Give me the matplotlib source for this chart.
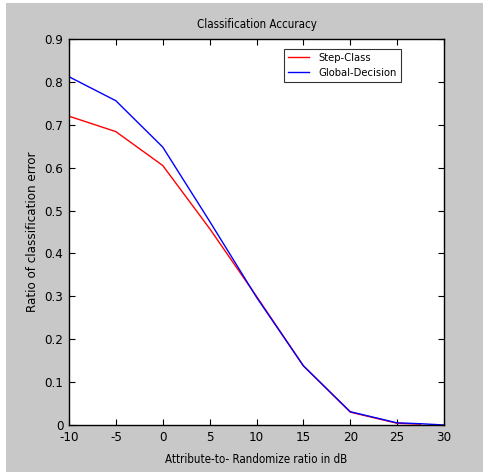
import matplotlib.pyplot as plt
from matplotlib import font_manager
from matplotlib.patches import Rectangle

# snr values (dB) and classification error ratio
x_step = [-10, -5, 0, 5, 10, 15, 20, 25, 27.5]
y_step = [0.720, 0.684, 0.605, 0.458, 0.300, 0.138, 0.030, 0.004, 0.002]

x_global = [-10, -5, 0, 5, 10, 15, 20, 25, 27.5, 30]
y_global = [0.812, 0.756, 0.648, 0.475, 0.298, 0.138, 0.031, 0.005, 0.003, 0.0]

xticks = [-10, -5, 0, 5, 10, 15, 20, 25, 30]
yticks = [0, 0.1, 0.2, 0.3, 0.4, 0.5, 0.6, 0.7, 0.8, 0.9]
ytick_labels = ["0", "0.1", "0.2", "0.3", "0.4", "0.5", "0.6", "0.7", "0.8", "0.9"]

# pick a narrow font if there is one (matlab look)
condensed = [f for f in font_manager.fontManager.ttflist
             if f.name == "DejaVu Sans" and f.stretch in ("condensed", 87.5, "semi-condensed")]
if condensed:
    plt.rcParams['font.family'] = ['DejaVu Sans']
    plt.rcParams['font.stretch'] = 'condensed'
else:
    plt.rcParams['font.family'] = ['Liberation Sans', 'DejaVu Sans']

fig = plt.figure(figsize=(4.83, 4.74), dpi=100, facecolor="white")
# gray matlab-style background
fig.patches.append(Rectangle((6 / 483, 2 / 474), 477 / 483, 469 / 474,
                             transform=fig.transFigure, facecolor="#c8c8c8",
                             edgecolor="none", zorder=-1))

ax = fig.add_axes([69 / 483, 49 / 474, 375 / 483, 386 / 474])
ax.set_facecolor("white")
ax.plot(x_step, y_step, color="#ff0000", lw=1.0, label="Step-Class")
ax.plot(x_global, y_global, color="#0000ff", lw=1.0, label="Global-Decision")

ax.set_xlim(-10, 30)
ax.set_ylim(0, 0.9)
ax.set_xticks(xticks)
ax.set_xticklabels([str(t) for t in xticks])
ax.set_yticks(yticks)
ax.set_yticklabels(ytick_labels)
ax.tick_params(direction="in", top=True, right=True, length=4, labelsize=9.5, pad=4)
ax.tick_params(axis="x", pad=4.5)
for s in ax.spines.values():
    s.set_linewidth(1.0)

ax.set_title("Classification Accuracy", fontsize=8.3, pad=8)
ax.set_xlabel("Attribute-to- Randomize ratio in dB", fontsize=8.3, labelpad=6)
ax.set_ylabel("Ratio of classification error", fontsize=9.5, labelpad=4)

leg = ax.legend(loc="upper right", bbox_to_anchor=(0.885, 0.974), fontsize=8,
                frameon=True, fancybox=False, handlelength=1.9, handletextpad=0.9,
                borderpad=0.35, labelspacing=0.45, borderaxespad=0)
leg.get_frame().set_edgecolor("black")
leg.get_frame().set_linewidth(0.8)

fig.savefig("out.png", dpi=100, facecolor=fig.get_facecolor())
